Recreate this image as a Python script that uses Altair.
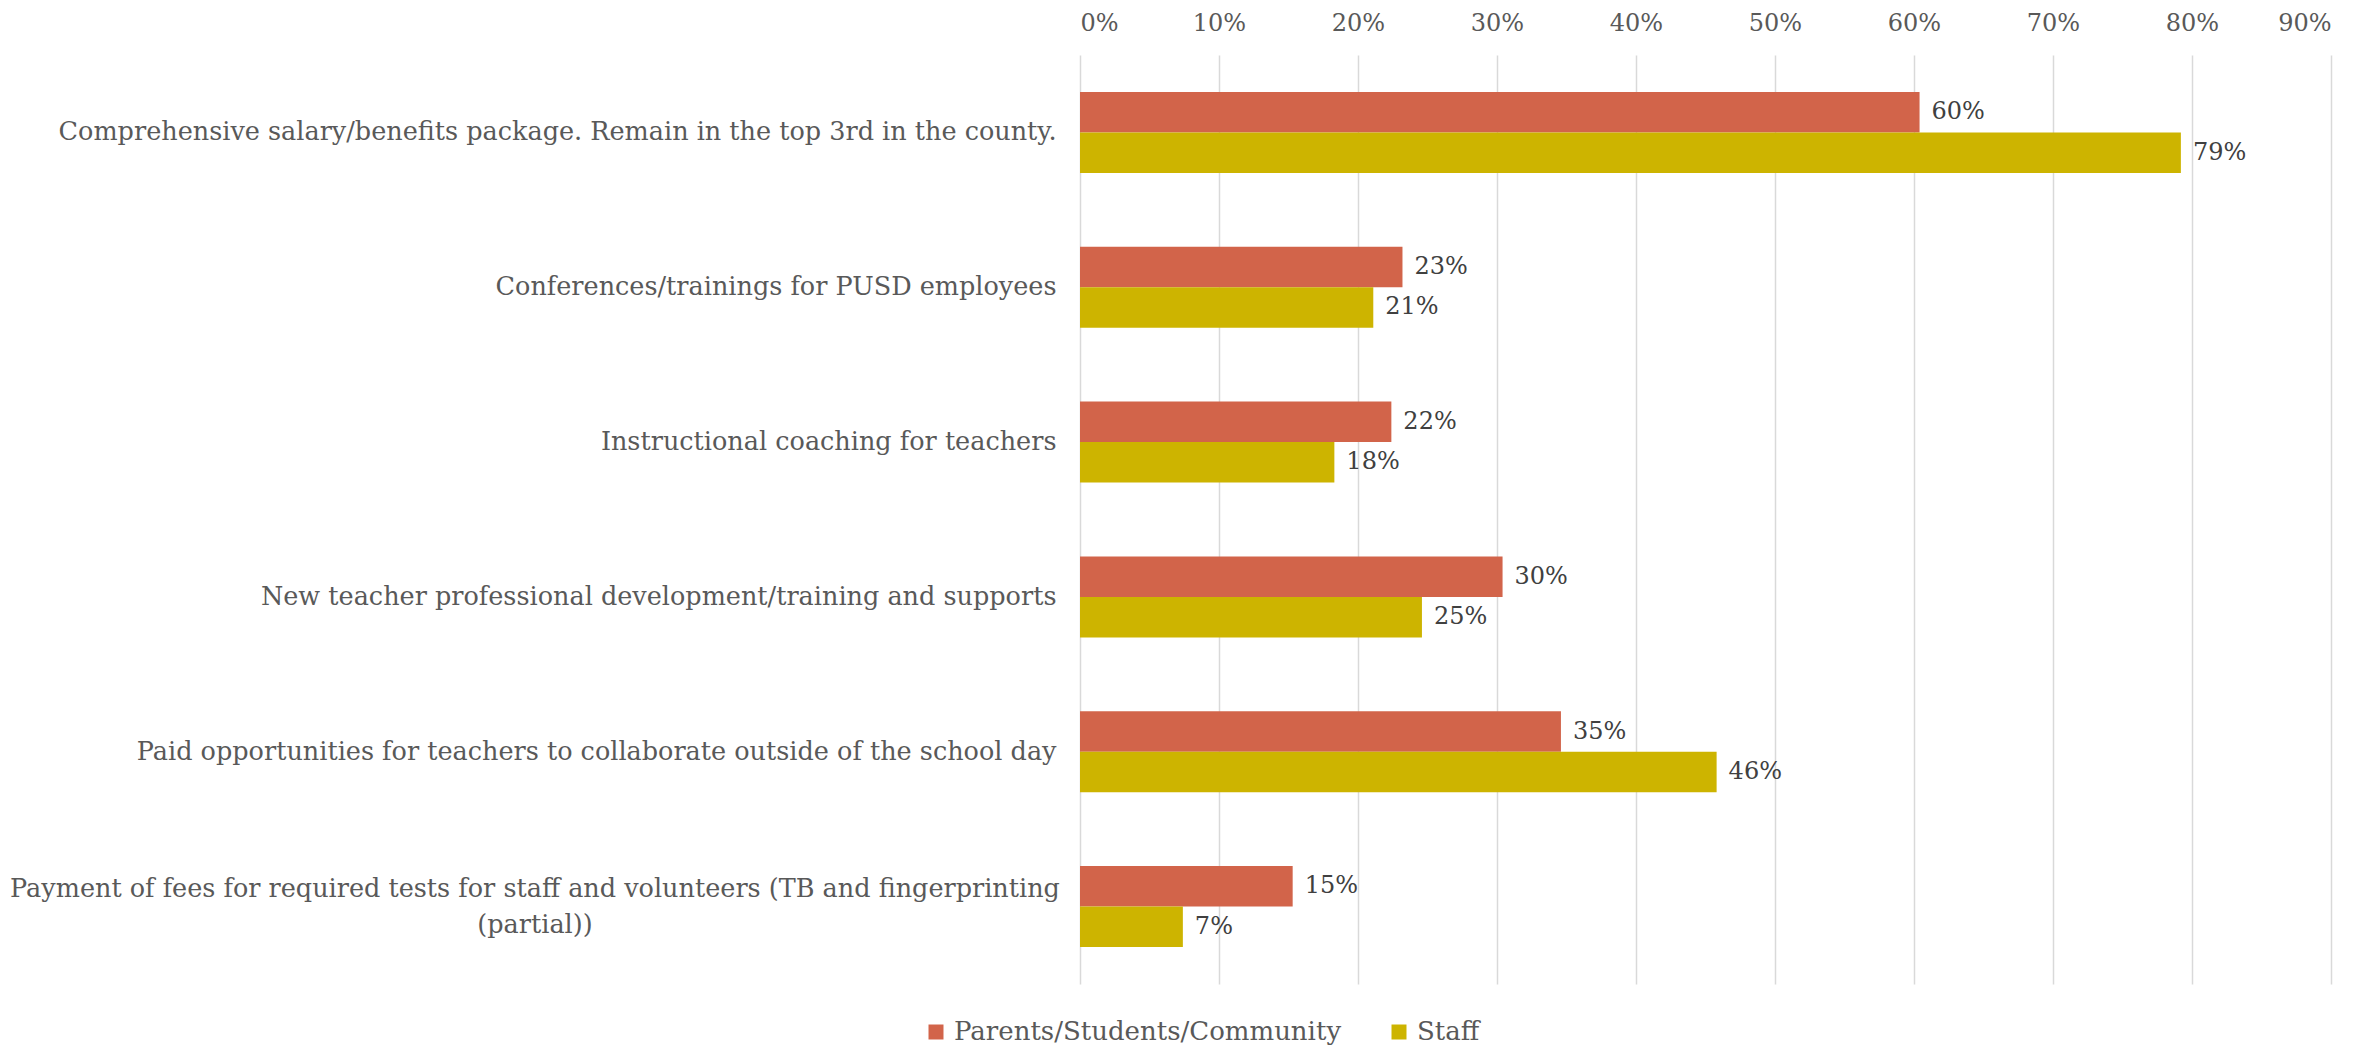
import altair as alt
import pandas as pd

categories = [
    "Comprehensive salary/benefits package. Remain in the top 3rd in the county.",
    "Conferences/trainings for PUSD employees",
    "Instructional coaching for teachers",
    "New teacher professional development/training and supports",
    "Paid opportunities for teachers to collaborate outside of the school day",
    "Payment of fees for required tests for staff and volunteers (TB and fingerprinting|(partial))",
]
series = ["Parents/Students/Community", "Staff"]
parents = [0.604, 0.232, 0.224, 0.304, 0.346, 0.153]
staff = [0.792, 0.211, 0.183, 0.246, 0.458, 0.074]
x_ticks = [0, 0.1, 0.2, 0.3, 0.4, 0.5, 0.6, 0.7, 0.8, 0.9]
colors = ["#D2644A", "#CDB400"]

rows = []
for c, p, s in zip(categories, parents, staff):
    rows.append({"category": c, "series": series[0], "value": p})
    rows.append({"category": c, "series": series[1], "value": s})
df = pd.DataFrame(rows)
multi = pd.DataFrame({"category": [c for c in categories if "|" in c]})

FONT = "DejaVu Serif"

y_enc = alt.Y(
    "category:N",
    sort=categories,
    scale=alt.Scale(paddingInner=0.477, paddingOuter=0.2385),
    axis=alt.Axis(
        title=None,
        domain=False,
        ticks=False,
        labelPadding=24,
        labelFont=FONT,
        labelFontSize=25.5,
        labelColor="#595959",
        labelLimit=1200,
        labelExpr="indexof(datum.label, '|') >= 0 ? '' : datum.label",
    ),
)
x_enc = alt.X(
    "value:Q",
    scale=alt.Scale(domain=[0, 0.9], nice=False),
    axis=alt.Axis(
        title=None,
        orient="top",
        values=x_ticks,
        format=".0%",
        domain=False,
        ticks=False,
        labelPadding=20,
        labelFont=FONT,
        labelFontSize=24,
        labelColor="#595959",
        grid=True,
        gridColor="#D9D9D9",
        gridWidth=1.5,
    ),
)
yoff = alt.YOffset("series:N", sort=series, scale=alt.Scale(paddingInner=0, paddingOuter=0))

bars = alt.Chart(df).mark_bar().encode(
    y=y_enc,
    x=x_enc,
    yOffset=yoff,
    color=alt.Color(
        "series:N",
        sort=series,
        scale=alt.Scale(domain=series, range=colors),
        legend=alt.Legend(
            title=None,
            orient="none",
            legendX=-157,
            legendY=964,
            direction="horizontal",
            symbolType="square",
            symbolSize=225,
            symbolStrokeWidth=0,
            labelFont=FONT,
            labelFontSize=26,
            labelColor="#595959",
            labelOffset=5,
            columnPadding=44,
            labelLimit=600,
        ),
    ),
)

labels = alt.Chart(df).mark_text(
    align="left", baseline="middle", dx=12, font=FONT, fontSize=24, color="#404040"
).encode(
    y=alt.Y("category:N", sort=categories),
    x=alt.X("value:Q"),
    yOffset=alt.YOffset("series:N", sort=series),
    text=alt.Text("value:Q", format=".0%"),
)

multi_label = alt.Chart(multi).mark_text(
    align="center", baseline="middle", lineBreak="|", lineHeight=36, dy=-18,
    font=FONT, fontSize=25.5, color="#595959"
).encode(
    y=alt.Y("category:N", sort=categories),
    x=alt.value(-545),
    text="category:N",
)

chart = alt.layer(bars, labels, multi_label).properties(
    width=1251,
    height=929,
    autosize=alt.AutoSizeParams(type="none"),
    padding={"left": 1072, "top": 47, "right": 40, "bottom": 63},
).configure_view(stroke=None)

chart.save("out.html", embed_options={"renderer": "svg", "actions": False})
